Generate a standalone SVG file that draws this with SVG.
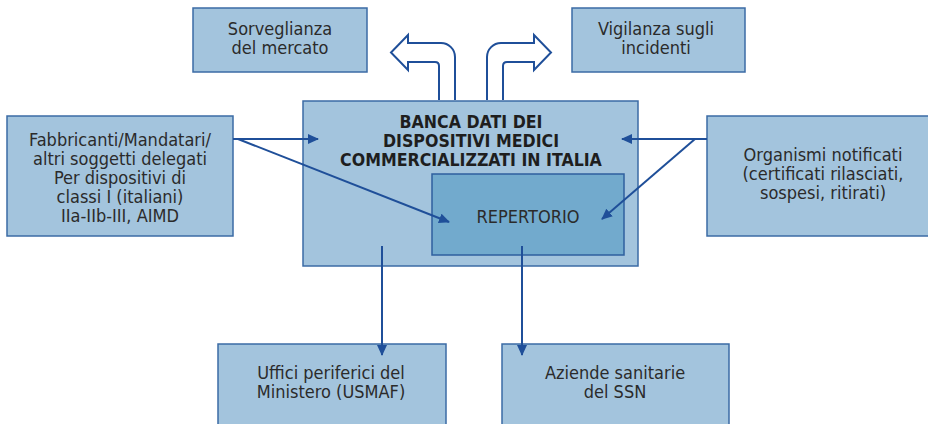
<svg xmlns="http://www.w3.org/2000/svg" width="928" height="424" viewBox="0 0 928 424">
<style>
.box{fill:#a3c4dd;stroke:#3b6ba5;stroke-width:1.5}
.rep{fill:#72aacd;stroke:#2f5f9e;stroke-width:1.5}
.t{font-family:"DejaVu Sans Condensed","DejaVu Sans","Liberation Sans",sans-serif;font-stretch:condensed;font-size:18px;fill:#2b2b2b;text-anchor:middle}
.title{font-family:"DejaVu Sans Condensed","DejaVu Sans",sans-serif;font-stretch:condensed;font-weight:bold;font-size:17.6px;fill:#1e1e1e;text-anchor:middle}
.c{stroke:#1f4f99;stroke-width:2;fill:none;marker-end:url(#ah)}
.blk{fill:#ffffff;stroke:#1f4f99;stroke-width:2;stroke-linejoin:miter}
</style>
<defs>
<marker id="ah" markerUnits="userSpaceOnUse" markerWidth="11" markerHeight="10" refX="10" refY="5" orient="auto">
<path d="M0,0 L11,5 L0,10 Z" fill="#1f4f99"/>
</marker>
</defs>
<rect width="928" height="424" fill="#ffffff"/>
<g id="sorveglianza">
<rect class="box" x="193" y="8" width="174" height="64"/>
<text class="t" x="280" y="35">Sorveglianza</text>
<text class="t" x="280" y="54">del mercato</text>
</g>
<g id="vigilanza">
<rect class="box" x="572" y="8" width="173" height="64"/>
<text class="t" x="656" y="35">Vigilanza sugli</text>
<text class="t" x="656" y="54">incidenti</text>
</g>
<g id="banca">
<rect class="box" x="303" y="101" width="335" height="165"/>
<text class="title" x="471" y="128">BANCA DATI DEI</text>
<text class="title" x="471" y="147">DISPOSITIVI MEDICI</text>
<text class="title" x="471" y="166">COMMERCIALIZZATI IN ITALIA</text>
</g>
<g id="repertorio">
<rect class="rep" x="432" y="174" width="192" height="81"/>
<text class="t" x="528" y="223">REPERTORIO</text>
</g>
<g id="fabbricanti">
<rect class="box" x="7" y="116" width="226" height="120"/>
<text class="t" x="120" y="146">Fabbricanti/Mandatari/</text>
<text class="t" x="120" y="165">altri soggetti delegati</text>
<text class="t" x="120" y="184">Per dispositivi di</text>
<text class="t" x="120" y="203">classi I (italiani)</text>
<text class="t" x="120" y="222">IIa-IIb-III, AIMD</text>
</g>
<g id="organismi">
<rect class="box" x="707" y="116" width="228" height="120"/>
<text class="t" x="823" y="161">Organismi notificati</text>
<text class="t" x="823" y="180">(certificati rilasciati,</text>
<text class="t" x="823" y="199">sospesi, ritirati)</text>
</g>
<g id="uffici">
<rect class="box" x="218" y="344" width="228" height="90"/>
<text class="t" x="331" y="379">Uffici periferici del</text>
<text class="t" x="331" y="398">Ministero (USMAF)</text>
</g>
<g id="aziende">
<rect class="box" x="502" y="344" width="227" height="90"/>
<text class="t" x="615" y="379">Aziende sanitarie</text>
<text class="t" x="615" y="398">del SSN</text>
</g>
<g id="connectors">
<path class="blk" d="M439,100 V66 Q439,62 435,62 H408 V70 L391,52.5 L408,35 V43 H441 A14,14 0 0 1 455,57 V100"/>
<path class="blk" d="M503,100 V66 Q503,62 507,62 H534 V70 L551,52.5 L534,35 V43 H501 A14,14 0 0 0 487,57 V100"/>
<line class="c" x1="233" y1="139" x2="318" y2="139"/>
<line class="c" x1="238" y1="139" x2="449" y2="222"/>
<line class="c" x1="707" y1="139" x2="622" y2="139"/>
<line class="c" x1="695" y1="139" x2="602" y2="219"/>
<line class="c" x1="382" y1="246" x2="382" y2="355"/>
<line class="c" x1="522" y1="246" x2="522" y2="355"/>
</g>
</svg>
